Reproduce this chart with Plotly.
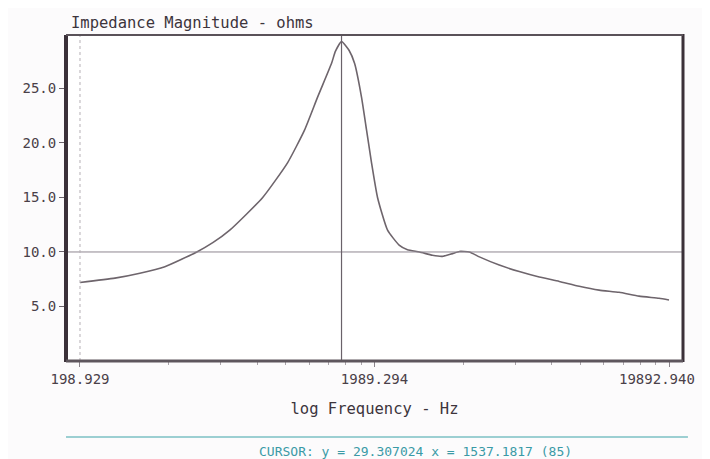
import math

import plotly.graph_objects as go

# impedance sweep
freq_hz = [198.9, 261.4, 317.7, 386.2, 495.9, 561.8, 641.6, 830.1, 1009, 1152,
           1275, 1422, 1465, 1537.18, 1630, 1702, 1797, 1869, 1943, 2037,
           2203, 2418, 2574, 2827, 3129, 3382, 3657, 3863, 4176, 4516,
           5277, 6169, 7213, 8432, 9857, 11518, 13466, 15741, 18401, 19892.94]
impedance_ohm = [7.2, 7.6, 8.05, 8.65, 10.0, 10.85, 12.0, 15.0, 18.2, 21.2,
                 24.2, 27.3, 28.4, 29.31, 28.5, 27.3, 24.2, 21.2, 18.2, 15.0,
                 12.0, 10.6, 10.2, 10.0, 9.7, 9.6, 9.85, 10.05, 10.0, 9.55,
                 8.8, 8.2, 7.7, 7.3, 6.85, 6.5, 6.3, 5.95, 5.75, 5.6]

major_x = [198.929, 1989.294, 19892.940]
major_x_text = ["198.929", "1989.294", "19892.940"]
minor_mult = [2, 3, 4, 5, 6, 7, 8, 9]
y_ticks = [5, 10, 15, 20, 25]
y_tick_text = ["5.0", "10.0", "15.0", "20.0", "25.0"]

cursor_x = 1537.1817
cursor_y = 29.307024
cursor_idx = 85
ref_level = 10.0

mono = "DejaVu Sans Mono"
ink = "#4a4048"
teal = "#3a9aa6"

minor_x = [m * b for b in major_x[:2] for m in minor_mult]

fig = go.Figure()
fig.add_trace(go.Scatter(x=freq_hz, y=impedance_ohm, mode="lines",
                         line=dict(color="#6e656c", width=1.6, shape="spline", smoothing=0.5),
                         hoverinfo="skip", showlegend=False))

# reference line, cursor and start marker
fig.add_shape(type="line", xref="paper", yref="y", x0=0, x1=1, y0=ref_level, y1=ref_level,
              line=dict(color="#8f8790", width=1))
fig.add_shape(type="line", xref="x", yref="paper", x0=cursor_x, x1=cursor_x, y0=0, y1=1,
              line=dict(color="#6a626a", width=1.2))
fig.add_shape(type="line", xref="x", yref="paper", x0=major_x[0], x1=major_x[0], y0=0, y1=1,
              line=dict(color="#b5b0b5", width=1, dash="dot"))

# frame: heavy left/right, lighter top
fig.add_shape(type="line", xref="paper", yref="paper", x0=0, x1=0, y0=-0.003, y1=1,
              line=dict(color="#3b3139", width=4))
fig.add_shape(type="line", xref="paper", yref="paper", x0=1, x1=1, y0=-0.003, y1=1.003,
              line=dict(color="#3b3139", width=3))
fig.add_shape(type="line", xref="paper", yref="paper", x0=0, x1=1, y0=1, y1=1,
              line=dict(color="#5a5259", width=2))
fig.add_shape(type="line", xref="paper", yref="paper", x0=0, x1=1, y0=0, y1=0,
              line=dict(color="#5e565d", width=3))

# status line under the chart
fig.add_shape(type="line", xref="paper", yref="paper", x0=0, x1=1.008, y0=-0.233, y1=-0.233,
              line=dict(color="#7cc0c4", width=1.5))
fig.add_annotation(xref="paper", yref="paper", x=0.566, y=-0.307,
                   text=f"CURSOR: y = {cursor_y:.6f} x = {cursor_x:.4f} ({cursor_idx})",
                   showarrow=False, font=dict(family=mono, size=13, color=teal))

fig.add_annotation(xref="paper", yref="paper", x=0.005, y=1, xanchor="left", yanchor="bottom",
                   yshift=1, text="Impedance Magnitude - ohms", showarrow=False,
                   font=dict(family=mono, size=15.5, color="#3d353c"))

# last frequency label sits flush with the frame, so it is drawn as an annotation
# (annotations on a log axis take log10 positions)
fig.add_annotation(xref="x", yref="paper", x=math.log10(major_x[-1]), y=0,
                   xanchor="right", yanchor="middle", xshift=28, yshift=-18,
                   text=major_x_text[-1], showarrow=False,
                   font=dict(family=mono, size=14, color=ink))

fig.update_xaxes(type="log", range=[2.2512, 4.3462], showgrid=False, zeroline=False,
                 showline=False, automargin=False, tickmode="array", tickvals=major_x,
                 ticktext=major_x_text[:-1] + [""], ticks="outside", ticklen=5,
                 tickcolor="#8a838a", tickwidth=1,
                 minor=dict(tickmode="array", tickvals=minor_x, ticks="outside",
                            ticklen=3, tickcolor="#a9a3a9", tickwidth=1),
                 tickfont=dict(family=mono, size=14, color=ink),
                 title=dict(text="log Frequency - Hz", standoff=17,
                            font=dict(family=mono, size=15.5, color="#3d353c")))
fig.update_yaxes(range=[0, 29.9], showgrid=False, zeroline=False, showline=False,
                 automargin=False, tickmode="array", tickvals=y_ticks, ticktext=y_tick_text,
                 ticks="outside", ticklen=6, tickcolor="#6a626a", tickwidth=1,
                 tickfont=dict(family=mono, size=14, color=ink))

# page body has an 8px margin, so the figure is sized to fit inside it
fig.update_layout(width=702, height=451, margin=dict(l=58, r=27, t=27, b=98),
                  plot_bgcolor="#ffffff", paper_bgcolor="#fcfbfc", showlegend=False)

fig.write_html("out.html")
